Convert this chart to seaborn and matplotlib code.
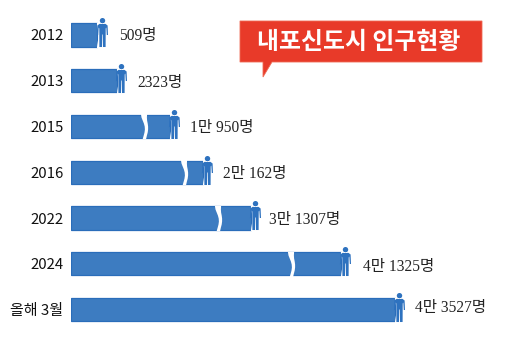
import numpy as np
import pandas as pd
import seaborn as sns
import matplotlib.pyplot as plt
from matplotlib.path import Path
from matplotlib.patches import Polygon
from matplotlib.transforms import Affine2D

# bars are not to scale in the source, lengths are as drawn
periods = ['2012', '2013', '2015', '2016', '2022', '2024', '올해 3월']
bar_lengths = [26, 46, 99, 132, 180, 270, 324]
value_labels = ['509명', '2323명', '1만 950명', '2만 162명', '3만 1307명', '4만 1325명', '4만 3527명']
break_periods = [2, 3, 4, 5]
break_lengths = [72.5, 113, 147, 220]
title = '내포신도시 인구현황'

BLUE = '#3d7cc1'
EDGE = '#2a6dba'
RED = '#e83a29'
SANS = ['Noto Sans CJK KR', 'DejaVu Sans']
SERIF = ['Liberation Serif', 'Noto Sans CJK KR']

sns.set_theme(style='white')
plt.rcParams['font.family'] = SANS

# person icon, units are pixels around the centre
body = [(-3, 8.6), (3, 8.6), (5.1, 7), (5.5, -2.5), (4.3, -2.5), (3.8, 5), (3.2, 4),
        (3.1, -14.5), (0.5, -14.5), (0.3, -2), (-0.3, -2), (-0.5, -14.5), (-3.1, -14.5),
        (-3.2, 4), (-3.8, 5), (-4.3, -2.5), (-5.5, -2.5), (-5.1, 7), (-3, 8.6)]
head = Path.unit_circle().transformed(Affine2D().scale(2.7).translate(0, 11.8))
person = Path.make_compound_path(head, Path(body, closed=True))

# white wavy strips through the bars, units are pixels
cut_y = [12.5, 9, 6, 3, 0, -3, -6, -9, -12.5]
left_edge = [-3.6, -3.0, -1.8, -0.6, 0.2, 0.4, 0.0, -0.8, -1.8]
right_edge = [2.6, 2.4, 2.6, 3.2, 3.6, 3.6, 3.2, 2.4, 1.6]
cut = Path(list(zip(left_edge, cut_y)) + list(zip(right_edge, cut_y))[::-1] + [(left_edge[0], cut_y[0])],
           closed=True)
end_left = [-0.6, -0.3, 0.3, 0.8, 1.0, 0.8, 0.3, -0.2, -0.6]
end_cut = Path(list(zip(end_left, cut_y)) + [(4, -12.5), (4, 12.5), (end_left[0], cut_y[0])], closed=True)

fig = plt.figure(figsize=(5.10, 3.53), dpi=100)
ax = fig.add_axes([71 / 510, 1 - 332.4 / 353, 439 / 510, 320.3 / 353])

df = pd.DataFrame({'period': periods, 'length': bar_lengths})
sns.barplot(data=df, x='length', y='period', orient='h', color=BLUE, saturation=1,
            width=0.51, edgecolor=EDGE, linewidth=0.9, ax=ax, zorder=2)

rows = np.arange(len(periods))
ends = np.array(bar_lengths)
sns.scatterplot(x=list(break_lengths), y=list(break_periods), marker=cut, s=18 ** 2,
                color='white', linewidth=0, ax=ax, zorder=3)
sns.scatterplot(x=ends, y=rows, marker=end_cut, s=18 ** 2, color='white', linewidth=0,
                ax=ax, zorder=3)
sns.scatterplot(x=ends + 4.5, y=rows - 0.055, marker=person, s=20.9 ** 2, color='#2e72bf',
                linewidth=0, ax=ax, zorder=4)

label_gaps = [22, 20, 20, 20, 18, 22, 20]
label_shift = [0.02, 0.04, 0.04, 0.04, 0.04, 0.08, -0.03]
for i, txt in enumerate(value_labels):
    ax.text(ends[i] + label_gaps[i], i + label_shift[i], txt, family=SERIF, fontsize=11.2,
            color='#222222', ha='left', va='center')

ax.set_xlim(0, 439)
ax.set_ylim(6.5, -0.5)
ax.set_xlabel('')
ax.set_ylabel('')
ax.set_xticks([])
ax.tick_params(axis='y', length=0, pad=5.5, labelsize=10.8, labelcolor='#111111')
for lab in ax.get_yticklabels():
    lab.set_fontweight('medium')
sns.despine(ax=ax, left=True, bottom=True)

# speech bubble, in figure pixels
over = fig.add_axes([0, 0, 1, 1], zorder=5)
over.set_xlim(0, 510)
over.set_ylim(353, 0)
over.axis('off')
over.add_patch(Polygon([(240, 21), (482, 21), (482, 62), (272, 62), (263, 77), (263, 62), (240, 62)],
                       closed=True, facecolor=RED, edgecolor='#ef6a55', linewidth=0.6))
over.text(359, 42, title, color='white', fontsize=17.2, fontweight='bold', ha='center', va='center')

fig.savefig('out.png', dpi=100)
